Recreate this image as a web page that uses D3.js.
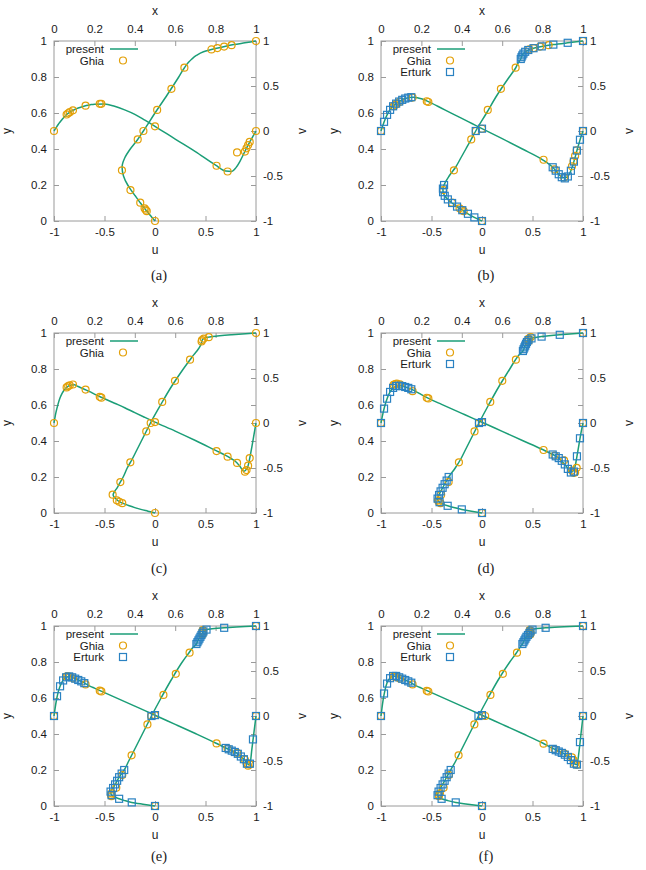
<!DOCTYPE html>
<html>
<head>
<meta charset="utf-8">
<script src="https://cdn.jsdelivr.net/npm/d3@7"></script>
<style>
  body { margin: 0; background: #fff; }
  svg text { font-family: "Liberation Sans", Arial, sans-serif; fill: #1a1a1a; }
</style>
</head>
<body>
<svg width="646" height="870"></svg>
<script>
// grid used for the "present" curves (y for u-profiles, x for v-profiles)
const presentGrid = [0, 0.01, 0.02, 0.03, 0.04, 0.06, 0.08, 0.1, 0.12, 0.14, 0.16, 0.18, 0.2, 0.25, 0.3, 0.35, 0.4, 0.45, 0.5, 0.6, 0.7, 0.8, 0.85, 0.88, 0.9, 0.92, 0.94, 0.96, 0.97, 0.98, 0.99, 1];

const presentUa = [0, -0.015, -0.03, -0.045, -0.06, -0.089, -0.117, -0.144, -0.17, -0.196, -0.222, -0.247, -0.27, -0.312, -0.326, -0.3, -0.245, -0.175, -0.115, 0.0, 0.12, 0.235, 0.29, 0.33, 0.365, 0.41, 0.48, 0.61, 0.69, 0.78, 0.89, 1];
const presentVa = [0, 0.035, 0.07, 0.1, 0.128, 0.178, 0.211, 0.236, 0.255, 0.27, 0.283, 0.292, 0.298, 0.3, 0.275, 0.235, 0.185, 0.12, 0.052, -0.09, -0.23, -0.38, -0.445, -0.45, -0.41, -0.34, -0.25, -0.16, -0.118, -0.078, -0.039, 0];
const presentUb = [0, -0.038, -0.076, -0.108, -0.139, -0.195, -0.247, -0.296, -0.338, -0.369, -0.385, -0.387, -0.376, -0.325, -0.26, -0.21, -0.16, -0.11, -0.062, 0.045, 0.15, 0.27, 0.333, 0.36, 0.384, 0.399, 0.428, 0.51, 0.592, 0.7065, 0.849, 1];
const presentVb = [0, 0.068, 0.128, 0.179, 0.222, 0.275, 0.313, 0.341, 0.3605, 0.373, 0.376, 0.37, 0.358, 0.31, 0.253, 0.196, 0.14, 0.083, 0.026, -0.085, -0.2, -0.32, -0.403, -0.48, -0.52, -0.515, -0.442, -0.3, -0.217, -0.14, -0.065, 0];
const presentUc = [0, -0.07, -0.14, -0.2, -0.255, -0.345, -0.39, -0.415, -0.4, -0.375, -0.355, -0.335, -0.315, -0.275, -0.225, -0.18, -0.135, -0.09, -0.045, 0.055, 0.16, 0.28, 0.345, 0.385, 0.415, 0.44, 0.458, 0.466, 0.485, 0.57, 0.76, 1];
const presentVc = [0, 0.12, 0.21, 0.28, 0.33, 0.39, 0.42, 0.425, 0.405, 0.385, 0.365, 0.345, 0.32, 0.27, 0.22, 0.17, 0.115, 0.062, 0.01, -0.09, -0.195, -0.305, -0.36, -0.4, -0.43, -0.48, -0.535, -0.48, -0.38, -0.26, -0.13, 0];
const presentUd = [0, -0.105, -0.2, -0.28, -0.34, -0.42, -0.44, -0.425, -0.41, -0.39, -0.37, -0.35, -0.33, -0.265, -0.21, -0.165, -0.12, -0.075, -0.03, 0.065, 0.165, 0.275, 0.33, 0.37, 0.405, 0.42, 0.436, 0.46, 0.49, 0.59, 0.77, 1];
const presentVd = [0, 0.11, 0.2, 0.27, 0.325, 0.39, 0.412, 0.413, 0.4, 0.385, 0.365, 0.34, 0.315, 0.257, 0.207, 0.157, 0.107, 0.057, 0.008, -0.093, -0.194, -0.295, -0.35, -0.39, -0.435, -0.49, -0.55, -0.49, -0.37, -0.24, -0.11, 0];
const presentUe = [0, -0.12, -0.23, -0.3, -0.355, -0.43, -0.44, -0.415, -0.395, -0.375, -0.355, -0.33, -0.305, -0.26, -0.215, -0.17, -0.125, -0.08, -0.035, 0.06, 0.16, 0.27, 0.335, 0.375, 0.41, 0.425, 0.45, 0.47, 0.48, 0.51, 0.685, 1];
const presentVe = [0, 0.15, 0.26, 0.33, 0.38, 0.43, 0.44, 0.42, 0.4, 0.38, 0.355, 0.33, 0.31, 0.26, 0.21, 0.16, 0.11, 0.06, 0.008, -0.093, -0.195, -0.3, -0.355, -0.385, -0.405, -0.44, -0.48, -0.535, -0.53, -0.36, -0.18, 0];
const presentUf = [0, -0.14, -0.26, -0.34, -0.4, -0.44, -0.43, -0.41, -0.39, -0.37, -0.35, -0.33, -0.31, -0.26, -0.215, -0.17, -0.125, -0.08, -0.035, 0.06, 0.16, 0.275, 0.34, 0.375, 0.4, 0.42, 0.44, 0.47, 0.48, 0.5, 0.63, 1];
const presentVf = [0, 0.17, 0.29, 0.37, 0.41, 0.445, 0.44, 0.42, 0.4, 0.38, 0.355, 0.33, 0.31, 0.26, 0.21, 0.16, 0.11, 0.06, 0.008, -0.093, -0.195, -0.3, -0.36, -0.39, -0.41, -0.44, -0.49, -0.535, -0.54, -0.4, -0.2, 0];

// Ghia et al. reference points
const ghiaY = [1, 0.9766, 0.9688, 0.9609, 0.9531, 0.8516, 0.7344, 0.6172, 0.5, 0.4531, 0.2813, 0.1719, 0.1016, 0.0703, 0.0625, 0.0547, 0];
const ghiaU400 = [1, 0.75837, 0.68439, 0.61756, 0.55892, 0.29093, 0.16256, 0.02135, -0.11477, -0.17119, -0.32726, -0.24299, -0.14612, -0.10338, -0.09266, -0.08186, 0];
const ghiaU1000 = [1, 0.65928, 0.57492, 0.51117, 0.46604, 0.33304, 0.18719, 0.05702, -0.0608, -0.10648, -0.27805, -0.38289, -0.2973, -0.2222, -0.20196, -0.18109, 0];
const ghiaU3200 = [1, 0.53236, 0.48296, 0.46547, 0.46101, 0.34682, 0.19791, 0.07156, -0.04272, -0.08664, -0.24427, -0.34323, -0.41933, -0.37827, -0.35344, -0.32407, 0];
const ghiaU5000 = [1, 0.48223, 0.4612, 0.45992, 0.46036, 0.33556, 0.20087, 0.08183, -0.03039, -0.07404, -0.22855, -0.3305, -0.40435, -0.43643, -0.42901, -0.41165, 0];
const ghiaU7500 = [1, 0.47244, 0.47048, 0.47323, 0.47167, 0.34228, 0.20591, 0.08342, -0.038, -0.07503, -0.23176, -0.32393, -0.38324, -0.43025, -0.4359, -0.43154, 0];
const ghiaU10000 = [1, 0.47221, 0.47783, 0.4807, 0.47804, 0.34635, 0.20673, 0.08344, 0.03111, -0.0754, -0.23186, -0.32709, -0.38, -0.41657, -0.42537, -0.42735, 0];

const ghiaX = [1, 0.9688, 0.9609, 0.9531, 0.9453, 0.9063, 0.8594, 0.8047, 0.5, 0.2344, 0.2266, 0.1563, 0.0938, 0.0781, 0.0703, 0.0625, 0];
const ghiaV400 = [0, -0.12146, -0.15663, -0.19254, -0.22847, -0.23827, -0.44993, -0.38598, 0.05186, 0.30174, 0.30203, 0.28124, 0.22965, 0.2092, 0.19713, 0.1836, 0];
const ghiaV1000 = [0, -0.21388, -0.27669, -0.33714, -0.39188, -0.5155, -0.42665, -0.31966, 0.02526, 0.32235, 0.33075, 0.37095, 0.32627, 0.30353, 0.29012, 0.27485, 0];
const ghiaV3200 = [0, -0.39017, -0.47425, -0.52357, -0.54053, -0.44307, -0.37401, -0.31184, 0.00999, 0.28188, 0.2903, 0.37119, 0.42768, 0.41906, 0.40917, 0.3956, 0];
const ghiaV5000 = [0, -0.49774, -0.55069, -0.55408, -0.52876, -0.41442, -0.36214, -0.30018, 0.00945, 0.2728, 0.28066, 0.35368, 0.42951, 0.43648, 0.43329, 0.42447, 0];
const ghiaV7500 = [0, -0.53858, -0.55216, -0.52347, -0.4859, -0.4105, -0.36213, -0.30448, 0.00824, 0.27348, 0.28117, 0.3506, 0.41824, 0.43564, 0.4403, 0.43979, 0];
const ghiaV10000 = [0, -0.54302, -0.52987, -0.49099, -0.45863, -0.41496, -0.36737, -0.30719, 0.00831, 0.27224, 0.28003, 0.3507, 0.41487, 0.43124, 0.43733, 0.43983, 0];

// Erturk et al. reference points
const erturkY = [1, 0.99, 0.98, 0.97, 0.96, 0.95, 0.94, 0.93, 0.92, 0.91, 0.9, 0.5, 0.2, 0.18, 0.16, 0.14, 0.12, 0.1, 0.08, 0.06, 0.04, 0.02, 0];
const erturkU1000 = [1, 0.8486, 0.7065, 0.5917, 0.5102, 0.4582, 0.4276, 0.4101, 0.3993, 0.3913, 0.3838, -0.062, -0.3756, -0.3869, -0.3854, -0.369, -0.3381, -0.296, -0.2472, -0.1951, -0.1392, -0.0757, 0];
const erturkU5000 = [1, 0.77, 0.59, 0.49, 0.46, 0.445, 0.436, 0.428, 0.42, 0.412, 0.405, -0.03, -0.33, -0.35, -0.37, -0.39, -0.41, -0.425, -0.44, -0.42, -0.34, -0.2, 0];
const erturkU7500 = [1, 0.685, 0.51, 0.48, 0.47, 0.46, 0.45, 0.44, 0.43, 0.42, 0.41, -0.035, -0.305, -0.33, -0.355, -0.375, -0.395, -0.415, -0.44, -0.43, -0.355, -0.23, 0];
const erturkU10000 = [1, 0.63, 0.5, 0.48, 0.47, 0.455, 0.44, 0.43, 0.42, 0.41, 0.4, -0.035, -0.31, -0.33, -0.35, -0.37, -0.39, -0.41, -0.43, -0.44, -0.4, -0.26, 0];

const erturkX = [1, 0.985, 0.97, 0.955, 0.94, 0.925, 0.91, 0.895, 0.88, 0.865, 0.85, 0.5, 0.15, 0.135, 0.12, 0.105, 0.09, 0.075, 0.06, 0.045, 0.03, 0.015, 0];
const erturkV1000 = [0, -0.0973, -0.2173, -0.34, -0.4417, -0.5052, -0.5263, -0.5132, -0.4803, -0.4407, -0.4028, 0.0258, 0.3756, 0.3705, 0.3605, 0.346, 0.3273, 0.3041, 0.2746, 0.2349, 0.1792, 0.1019, 0];
const erturkV5000 = [0, -0.17, -0.37, -0.54, -0.55, -0.51, -0.46, -0.42, -0.39, -0.37, -0.35, 0.01, 0.375, 0.39, 0.4, 0.41, 0.415, 0.41, 0.39, 0.345, 0.27, 0.16, 0];
const erturkV7500 = [0, -0.26, -0.53, -0.53, -0.48, -0.45, -0.42, -0.4, -0.385, -0.37, -0.355, 0.01, 0.365, 0.385, 0.4, 0.415, 0.43, 0.44, 0.43, 0.395, 0.33, 0.22, 0];
const erturkV10000 = [0, -0.29, -0.54, -0.53, -0.49, -0.455, -0.43, -0.41, -0.395, -0.38, -0.365, 0.01, 0.37, 0.385, 0.4, 0.415, 0.43, 0.445, 0.445, 0.42, 0.36, 0.25, 0];

// tick labels
const uTicks = [-1, -0.5, 0, 0.5, 1];
const xTicks = [0, 0.2, 0.4, 0.6, 0.8, 1];
const yTicks = [0, 0.2, 0.4, 0.6, 0.8, 1];
const vTicks = [-1, -0.5, 0, 0.5, 1];

const svg = d3.select('svg');
const W = 202, H = 180;
const green = '#1b9e77', orange = '#e3a008', blue = '#2a82c2', frameCol = '#9a9a9a';

const panels = [
  { tag: '(a)', left: 54,  top: 41,  pu: presentUa, pv: presentVa, gu: ghiaU400,   gv: ghiaV400,   eu: null,        ev: null,        capY: 280 },
  { tag: '(b)', left: 381, top: 41,  pu: presentUb, pv: presentVb, gu: ghiaU1000,  gv: ghiaV1000,  eu: erturkU1000, ev: erturkV1000, capY: 280 },
  { tag: '(c)', left: 54,  top: 333, pu: presentUc, pv: presentVc, gu: ghiaU3200,  gv: ghiaV3200,  eu: null,        ev: null,        capY: 573 },
  { tag: '(d)', left: 381, top: 333, pu: presentUd, pv: presentVd, gu: ghiaU5000,  gv: ghiaV5000,  eu: erturkU5000, ev: erturkV5000, capY: 573 },
  { tag: '(e)', left: 54,  top: 626, pu: presentUe, pv: presentVe, gu: ghiaU7500,  gv: ghiaV7500,  eu: erturkU7500, ev: erturkV7500, capY: 861 },
  { tag: '(f)', left: 381, top: 626, pu: presentUf, pv: presentVf, gu: ghiaU10000, gv: ghiaV10000, eu: erturkU10000, ev: erturkV10000, capY: 861 }
];

const fmt = d => String(d);
const tickFont = '11.5px';

const styleAxis = sel => {
  sel.select('.domain').remove();
  sel.selectAll('.tick line').attr('stroke', frameCol);
  sel.selectAll('.tick text').attr('font-size', tickFont).attr('fill', '#1a1a1a');
};

const drawPanel = p => {
  const g = svg.append('g').attr('transform', `translate(${p.left},${p.top})`);

  const xU = d3.scaleLinear().domain([-1, 1]).range([0, W]);
  const xX = d3.scaleLinear().domain([0, 1]).range([0, W]);
  const yY = d3.scaleLinear().domain([0, 1]).range([H, 0]);
  const yV = d3.scaleLinear().domain([-1, 1]).range([H, 0]);

  // axes with inward ticks
  g.append('g').attr('transform', `translate(0,${H})`)
    .call(d3.axisBottom(xU).tickValues(uTicks).tickFormat(fmt).tickSize(-5).tickPadding(7))
    .call(styleAxis);
  g.append('g')
    .call(d3.axisTop(xX).tickValues(xTicks).tickFormat(fmt).tickSize(-5).tickPadding(8))
    .call(styleAxis);
  g.append('g')
    .call(d3.axisLeft(yY).tickValues(yTicks).tickFormat(fmt).tickSize(-5).tickPadding(7))
    .call(styleAxis);
  g.append('g').attr('transform', `translate(${W},0)`)
    .call(d3.axisRight(yV).tickValues(vTicks).tickFormat(fmt).tickSize(-5).tickPadding(7))
    .call(styleAxis);
  // mirrored ticks of the left axis on the right side
  g.append('g').attr('transform', `translate(${W},0)`)
    .call(d3.axisLeft(yY).tickValues(yTicks.slice(1, -1)).tickFormat('').tickSize(5))
    .call(styleAxis);

  g.append('rect')
    .attr('width', W).attr('height', H)
    .attr('fill', 'none').attr('stroke', frameCol).attr('stroke-width', 1);

  // axis titles
  g.append('text').text('x').attr('x', W / 2).attr('y', -26).attr('text-anchor', 'middle').attr('font-size', '12px');
  g.append('text').text('u').attr('x', W / 2).attr('y', H + 33).attr('text-anchor', 'middle').attr('font-size', '12px');
  g.append('text').text('y').attr('text-anchor', 'middle').attr('font-size', '12px')
    .attr('transform', `translate(-43,${H / 2}) rotate(-90)`);
  g.append('text').text('v').attr('text-anchor', 'middle').attr('font-size', '12px')
    .attr('transform', `translate(${W + 50},${H / 2}) rotate(-90)`);

  // present: u(y) along vertical centre line, v(x) along horizontal centre line
  const uLine = d3.line().x(d => xU(d[1])).y(d => yY(d[0])).curve(d3.curveMonotoneY);
  const vLine = d3.line().x(d => xX(d[0])).y(d => yV(d[1])).curve(d3.curveMonotoneX);
  g.append('path').datum(d3.zip(presentGrid, p.pu)).attr('d', uLine)
    .attr('fill', 'none').attr('stroke', green).attr('stroke-width', 1.5);
  g.append('path').datum(d3.zip(presentGrid, p.pv)).attr('d', vLine)
    .attr('fill', 'none').attr('stroke', green).attr('stroke-width', 1.5);

  // Ghia circles
  const ghiaPts = d3.zip(ghiaY, p.gu).map(([y, u]) => [xU(u), yY(y)])
    .concat(d3.zip(ghiaX, p.gv).map(([x, v]) => [xX(x), yV(v)]));
  g.append('g').selectAll('circle').data(ghiaPts).enter().append('circle')
    .attr('cx', d => d[0]).attr('cy', d => d[1]).attr('r', 3.5)
    .attr('fill', 'none').attr('stroke', orange).attr('stroke-width', 1.2);

  // Erturk squares
  if (p.eu) {
    const ertPts = d3.zip(erturkY, p.eu).map(([y, u]) => [xU(u), yY(y)])
      .concat(d3.zip(erturkX, p.ev).map(([x, v]) => [xX(x), yV(v)]));
    g.append('g').selectAll('rect').data(ertPts).enter().append('rect')
      .attr('x', d => d[0] - 3.5).attr('y', d => d[1] - 3.5)
      .attr('width', 7).attr('height', 7)
      .attr('fill', 'none').attr('stroke', blue).attr('stroke-width', 1.2);
  }

  // legend
  const leg = g.append('g');
  const rows = p.eu ? ['present', 'Ghia', 'Erturk'] : ['present', 'Ghia'];
  rows.forEach((name, i) => {
    const cy = 8 + i * 11.5;
    leg.append('text').text(name).attr('x', 50).attr('y', cy + 4)
      .attr('text-anchor', 'end').attr('font-size', tickFont);
    if (name === 'present') {
      leg.append('line').attr('x1', 56).attr('x2', 84).attr('y1', cy).attr('y2', cy)
        .attr('stroke', green).attr('stroke-width', 1.5);
    } else if (name === 'Ghia') {
      leg.append('circle').attr('cx', 69).attr('cy', cy).attr('r', 3.5)
        .attr('fill', 'none').attr('stroke', orange).attr('stroke-width', 1.2);
    } else {
      leg.append('rect').attr('x', 69 - 3.5).attr('y', cy - 3.5).attr('width', 7).attr('height', 7)
        .attr('fill', 'none').attr('stroke', blue).attr('stroke-width', 1.2);
    }
  });

  svg.append('text').text(p.tag)
    .attr('x', p.left + 105).attr('y', p.capY)
    .attr('text-anchor', 'middle').attr('font-size', '14.5px')
    .style('font-family', '"Liberation Serif", "Times New Roman", serif');
};

panels.forEach(drawPanel);
</script>
</body>
</html>
